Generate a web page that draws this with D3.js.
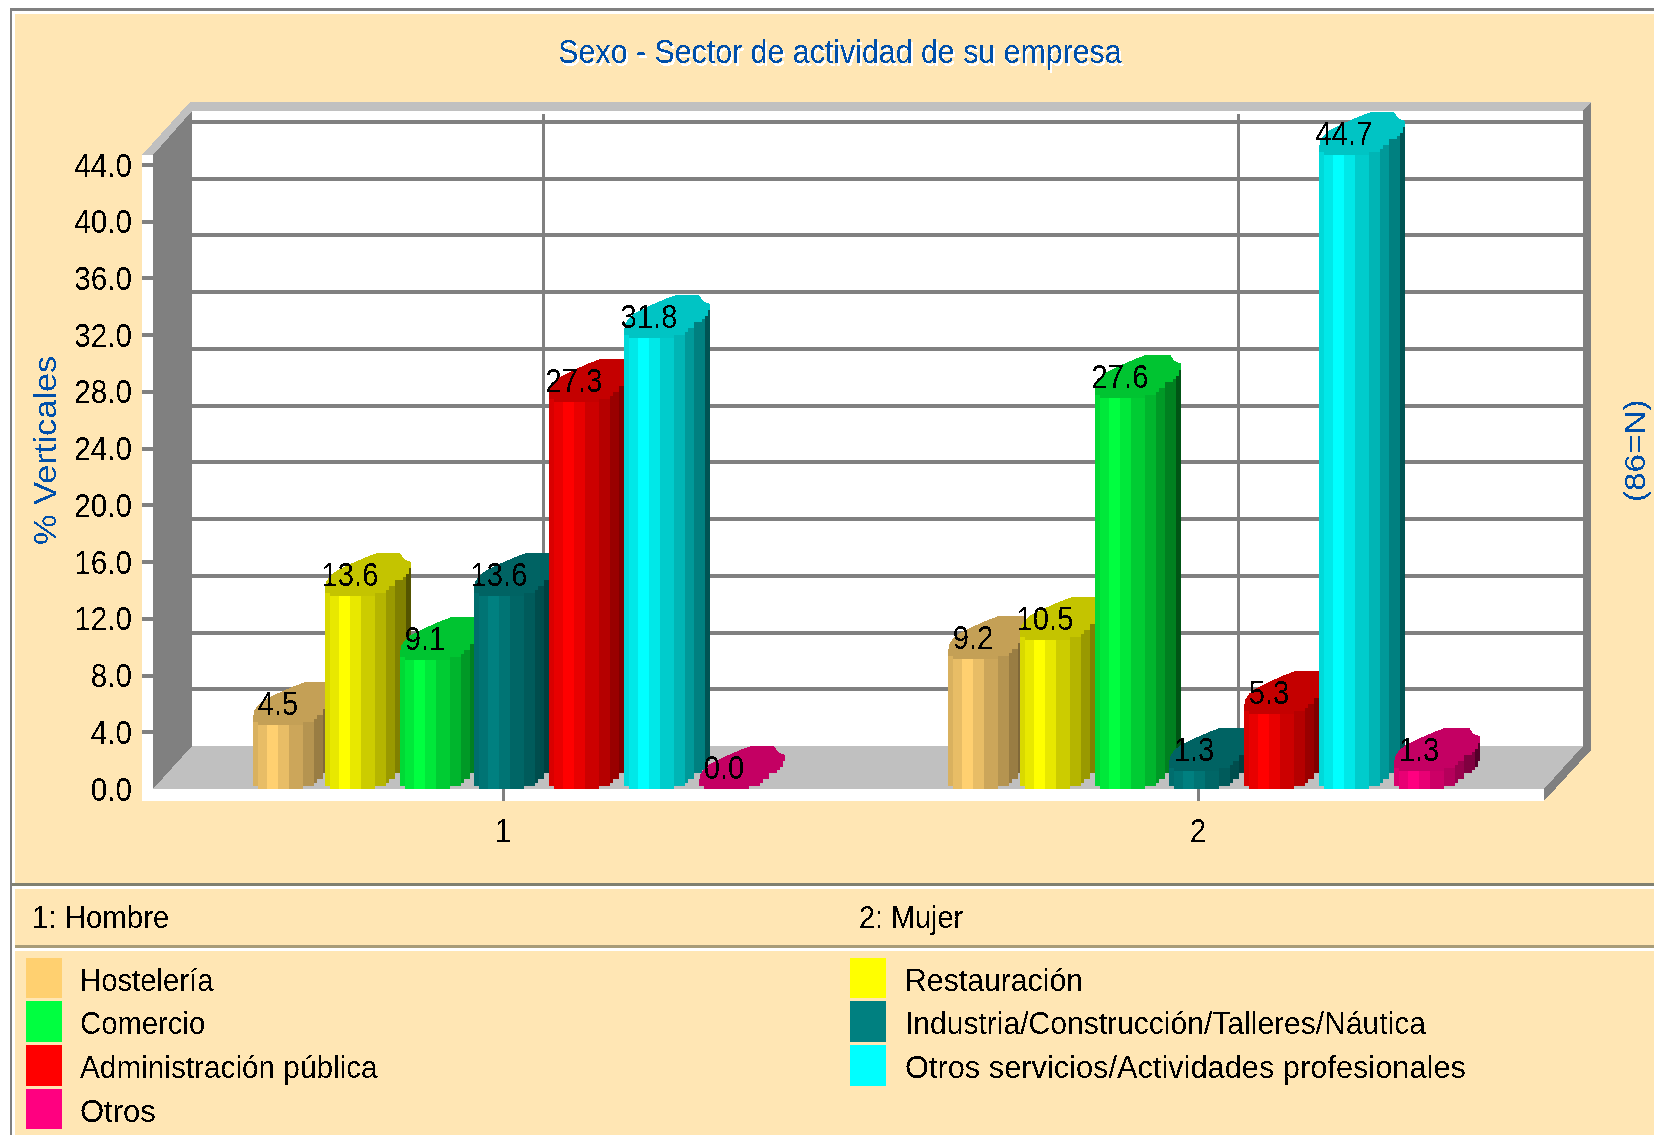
<!DOCTYPE html>
<html><head><meta charset="utf-8">
<script src="https://cdn.jsdelivr.net/npm/d3@7"></script>
<style>html,body{margin:0;padding:0;background:#fff;overflow:hidden}svg{display:block}text{font-family:"Liberation Sans",Arial,sans-serif}</style>
</head><body><div id="chart"></div>
<script>
const titleText = "Sexo - Sector de actividad de su empresa";
const yAxisTitle = "% Verticales";
const sideNote = "(86=N)";
const groups = ["1", "2"];
const groupNames = ["1: Hombre", "2: Mujer"];
const sectors = ["Hostelería","Restauración","Comercio","Industria/Construcción/Talleres/Náutica","Administración pública","Otros servicios/Actividades profesionales","Otros"];
const sectorColors = ["#ffd070","#ffff00","#00ff40","#008080","#ff0000","#00ffff","#ff0080"];
const hombreValues = [4.5,13.6,9.1,13.6,27.3,31.8,0.0];
const mujerValues = [9.2,10.5,27.6,1.3,5.3,44.7,1.3];
const yTicks = [0,4,8,12,16,20,24,28,32,36,40,44];

const W=1654,H=1135, BG="#ffe6b4", GRAY="#808080", LG="#c0c0c0", BLUE="#0050aa";
const svg=d3.select("#chart").append("svg").attr("width",W).attr("height",H).attr("viewBox",`0 0 ${W} ${H}`);
const defs=svg.append("defs");
const thr=defs.append("filter").attr("id","px").attr("x","-10%").attr("y","-30%").attr("width","120%").attr("height","160%");
thr.append("feComponentTransfer").append("feFuncA").attr("type","discrete").attr("tableValues","0 0 1 1");
const sh=defs.append("filter").attr("id","shadow").attr("x","-5%").attr("y","-30%").attr("width","110%").attr("height","170%");
sh.append("feComponentTransfer").attr("in","SourceGraphic").attr("result","t").append("feFuncA").attr("type","discrete").attr("tableValues","0 0 1 1");
sh.append("feOffset").attr("in","t").attr("dx",2).attr("dy",3).attr("result","o");
sh.append("feFlood").attr("flood-color","#fff").attr("result","w");
sh.append("feComposite").attr("in","w").attr("in2","o").attr("operator","in").attr("result","ws");
const mg=sh.append("feMerge");mg.append("feMergeNode").attr("in","ws");mg.append("feMergeNode").attr("in","t");

const y=d3.scaleLinear().domain([0,44]).range([789,165]);
const xGroup=d3.scalePoint().domain(groups).range([503,1198]);
const xSector=d3.scaleOrdinal().domain(sectors).range([-250,-178,-103,-29,46,121,196]);
const depthX=39, depthY=43, right=1544;
const poly=(pts,fill,p=svg)=>p.append("polygon").attr("points",pts.map(d=>d.join(",")).join(" ")).attr("fill",fill).attr("shape-rendering","crispEdges");
const rect=(x,yy,w,h,fill,p=svg)=>p.append("rect").attr("x",x).attr("y",yy).attr("width",w).attr("height",h).attr("fill",fill).attr("shape-rendering","crispEdges");
const label=(s,x,yy,size,sx,anchor,fill="#000",rot=0,filter="url(#px)")=>svg.append("text").text(s)
  .attr("transform",`translate(${x},${yy})${rot?` rotate(${rot})`:""} scale(${sx},1)`)
  .attr("font-size",size).attr("text-anchor",anchor).attr("fill",fill).attr("filter",filter);

// page
rect(0,0,W,H,"#fff");
rect(10,8,W-10,H-8,GRAY);
rect(12,11,W-12,H-11,"#fff");
rect(15,14,W-15,H-14,BG);
rect(12,883,W-12,3,"#808070");
rect(12,886,W-12,3,"#fff");
rect(15,889,W-15,H-889,BG);
rect(15,945,W-15,3,"#a89c78");
rect(15,948,W-15,3,"#fff");

// chart box
const x0=153, y0=y(0), yTop=155;
rect(x0+depthX,111,right-x0,y0-depthY-111,"#fff");
rect(142,yTop,11,801-yTop,"#fff");
rect(142,y0,right-142,12,"#fff");
poly([[142,yTop],[190,102],[1591,102],[1583,111],[192,111],[153,yTop]],LG);
poly([[x0,yTop],[192,111],[192,y0-depthY],[x0,y0]],GRAY);
poly([[x0,y0],[192,y0-depthY],[right+depthX,y0-depthY],[right,y0]],LG);
poly([[1583,111],[1591,102],[1591,750],[right,801],[right,y0],[1583,y0-depthY]],GRAY);
yTicks.filter(t=>t>0).forEach(t=>{
  rect(192,y(t)-depthY-2,1391,4,GRAY);
  rect(142,y(t)-2,11,4,GRAY);
});
groups.forEach(g=>{
  rect(xGroup(g)+depthX,114,3,y0-depthY-114,GRAY);
  rect(xGroup(g)-1,y0,3,12,GRAY);
});

// bars: faceted prism built of vertical stripes [from, to, lift, brightness]
const stripes=[[0,5,3,.85],[5,14,0,.91],[14,25,0,1],[25,36,0,.91],[36,50,0,.8],[50,61,3,.71],[61,64,6,.6],[64,70,10,.6],[70,78,16,.5],[78,81,19,.5],[81,84,22,.33],[84,86,28,.33]];
const backOutline=[[86,34],[79,37],[75,43],[52,43],[41,39],[25,32],[11,25],[5,20],[1,14],[0,6]];
const topShape=stripes.flatMap(([a,b,off])=>[[a,off],[b,off]]).concat(backOutline);
const shade=(c,f)=>{const r=d3.rgb(c);return d3.rgb(r.r*f,r.g*f,r.b*f).formatHex();};
const bars=svg.append("g");
const seriesByGroup=[hombreValues,mujerValues];
groups.forEach((g,gi)=>{
  sectors.forEach((s,si)=>{
    const v=seriesByGroup[gi][si], left=xGroup(g)+xSector(s), yv=y(v), c=sectorColors[si];
    stripes.forEach(([a,b,off,f])=>{
      if(y0-yv>0) rect(left+a,yv-off,b-a,y0-yv,shade(c,f),bars);
    });
    poly(topShape.map(([a,b])=>[left+a,yv-b]),shade(c,.77),bars);
  });
});
groups.forEach((g,gi)=>sectors.forEach((s,si)=>{
  const v=seriesByGroup[gi][si];
  label(v.toFixed(1),xGroup(g)+xSector(s)+25,y(v)-10,34,.86,"middle");
}));

// axes text
yTicks.forEach(t=>label(t.toFixed(1),132,y(t)+11.5,33,.9,"end"));
groups.forEach(g=>label(g,xGroup(g),842,33,.87,"middle"));
label(titleText,840,63,33,.92,"middle",BLUE,0,"url(#shadow)");
label(yAxisTitle,56,545,31,1.11,"start",BLUE,-90);
label(sideNote,1645,502,30,1.11,"start",BLUE,-90);

// legend
label(groupNames[0],32,928,31,.95,"start");
label(groupNames[1],859,928,31,.93,"start");
const rowY=[958,1001,1045,1089];
const legendStretch=[.945,.975,.945,.97,.96,.993,1];
sectors.forEach((s,i)=>{
  const col=i%2, row=Math.floor(i/2);
  rect(col?850:26,rowY[row],36,row==0||row==3?40:41,sectorColors[i]);
  label(s,col?905:80,rowY[row]+33,31,legendStretch[i],"start");
});
</script></body></html>
